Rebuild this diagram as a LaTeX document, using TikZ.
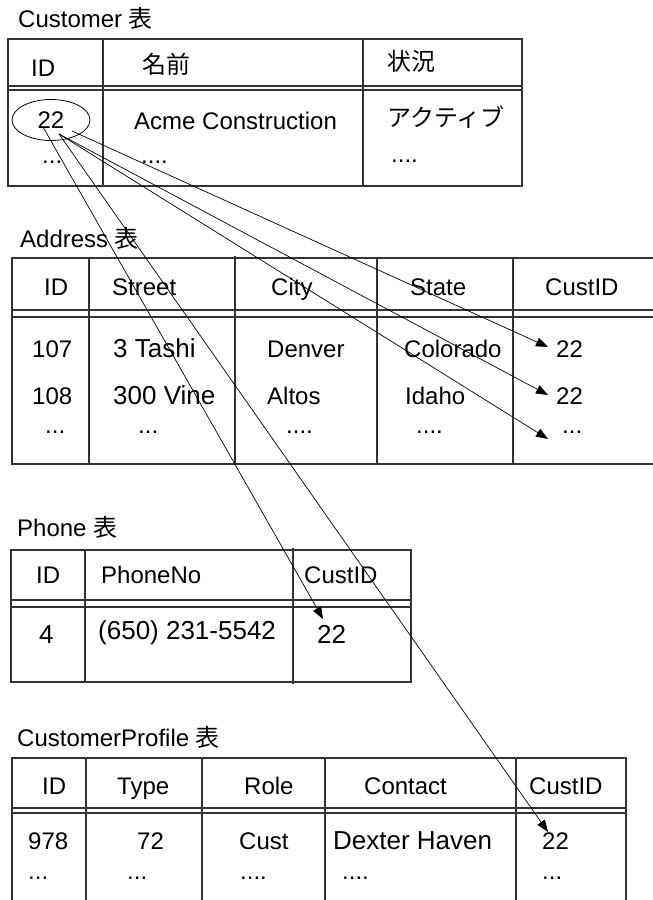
\documentclass[tikz,border=0pt]{standalone}
\usepackage{fontspec}
\setmainfont{Liberation Sans}
\newfontfamily\jpfont{Noto Sans CJK JP}
\usetikzlibrary{arrows.meta,shapes.geometric}

\begin{document}
\begin{tikzpicture}[
  x=1pt, y=-1pt,
  font=\fontsize{24}{28}\selectfont,
  txt/.style={anchor=base west, inner sep=0pt},
  big/.style={txt, font=\fontsize{26}{30}\selectfont},
  grid/.style={line width=1.1pt, draw=black!80},
  key/.style={draw, ellipse, line width=0.8pt, minimum width=78pt,
              minimum height=41pt, inner sep=0pt},
  arr/.style={-{Triangle[length=12pt,width=9pt]}, line width=0.7pt}
]
  \useasboundingbox (0,0) rectangle (653,900);

  % Customer
  \node[txt] (custTitle) at (18,27) {Customer {\jpfont 表}};
  \draw[grid] (8,39) rectangle (522,186);
  \draw[grid] (8,86) -- (522,86) (8,90) -- (522,90)
              (103,39) -- (103,186) (363,39) -- (363,186);
  \node[txt] (custId) at (31,76) {ID};
  \node[txt] (custName) at (142,73) {\jpfont 名前};
  \node[txt] (custState) at (387,70) {\jpfont 状況};
  \node[key] (cid) at (51,120) {22};
  \node[txt] (custAcme) at (134,129) {Acme Construction};
  \node[txt] (custActive) at (387,126) {\jpfont アクティブ};
  \node[txt] (custMore1) at (42,163) {...};
  \node[txt] (custMore2) at (141,163) {....};
  \node[txt] (custMore3) at (391,162) {....};

  % Address
  \node[txt] (addrTitle) at (20,247) {Address {\jpfont 表}};
  \draw[grid] (653,258) -- (12,258) -- (12,464) -- (653,464);
  \draw[grid] (12,310) -- (653,310) (12,317) -- (653,317)
              (89,258) -- (89,464) (235,256) -- (235,464)
              (377,258) -- (377,464) (513,258) -- (513,464);
  \node[txt] (addrId) at (44,295) {ID};
  \node[txt] (addrStreet) at (112,295) {Street};
  \node[txt] (addrCity) at (271,295) {City};
  \node[txt] (addrState) at (410,295) {State};
  \node[txt] (addrCust) at (545,295) {CustID};
  \node[txt] (addrId1) at (32,357) {107};
  \node[big] (addrStreet1) at (113,357) {3 Tashi};
  \node[txt] (addrCity1) at (267,357) {Denver};
  \node[txt] (addrState1) at (404,357) {Colorado};
  \node[txt] (addrCust1) at (556,357) {22};
  \node[txt] (addrId2) at (32,404) {108};
  \node[big] (addrStreet2) at (113,404) {300 Vine};
  \node[txt] (addrCity2) at (267,404) {Altos};
  \node[txt] (addrState2) at (405,404) {Idaho};
  \node[txt] (addrCust2) at (556,404) {22};
  \node[txt] (addrId3) at (45,433) {...};
  \node[txt] (addrStreet3) at (138,433) {...};
  \node[txt] (addrCity3) at (286,433) {....};
  \node[txt] (addrState3) at (416,433) {....};
  \node[txt] (addrCust3) at (562,433) {...};

  % Phone
  \node[txt] (phoneTitle) at (17,536) {Phone {\jpfont 表}};
  \draw[grid] (11,550) rectangle (411,682);
  \draw[grid] (11,600) -- (411,600) (11,607) -- (411,607)
              (85,550) -- (85,682) (293,548) -- (293,684);
  \node[txt] (phoneId) at (36,583) {ID};
  \node[txt] (phoneNo) at (101,583) {PhoneNo};
  \node[txt] (phoneCust) at (304,583) {CustID};
  \node[big] (phoneId1) at (39,643) {4};
  \node[big] (phoneNo1) at (98,639) {(650) 231-5542};
  \node[big] (phoneCust1) at (317,643) {22};

  % CustomerProfile
  \node[txt] (profTitle) at (17,746) {CustomerProfile {\jpfont 表}};
  \draw[grid] (12,900) -- (12,758) -- (626,758) -- (626,900);
  \draw[grid] (12,808) -- (626,808) (12,813) -- (626,813)
              (86,758) -- (86,900) (202,758) -- (202,900)
              (325,758) -- (325,900) (516,758) -- (516,900);
  \node[txt] (profId) at (42,794) {ID};
  \node[txt] (profType) at (117,794) {Type};
  \node[txt] (profRole) at (244,794) {Role};
  \node[txt] (profContact) at (364,794) {Contact};
  \node[txt] (profCust) at (529,794) {CustID};
  \node[txt] (profId1) at (28,849) {978};
  \node[txt] (profType1) at (137,849) {72};
  \node[txt] (profRole1) at (239,849) {Cust};
  \node[big] (profContact1) at (333,849) {Dexter Haven};
  \node[txt] (profCust1) at (542,849) {22};
  \node[txt] (profId2) at (28,879) {...};
  \node[txt] (profType2) at (127,879) {...};
  \node[txt] (profRole2) at (240,879) {....};
  \node[txt] (profContact2) at (342,879) {....};
  \node[txt] (profCust2) at (542,879) {...};

  \coordinate (src1) at (43,127);
  \coordinate (src2) at (59,134);
  \coordinate (src3) at (72,131);
  \draw[arr] (src1) -- ([shift={(6,-24)}]phoneCust1.base west);
  \draw[arr] (src2) -- ([shift={(6,-17)}]profCust1.base west);
  \draw[arr] (src2) -- ([shift={(-14,6)}]addrCust3.base west);
  \draw[arr] (src2) -- ([shift={(-8,-9)}]addrCust2.base west);
  \draw[arr] (src3) -- ([shift={(-8,-10)}]addrCust1.base west);
\end{tikzpicture}
\end{document}
